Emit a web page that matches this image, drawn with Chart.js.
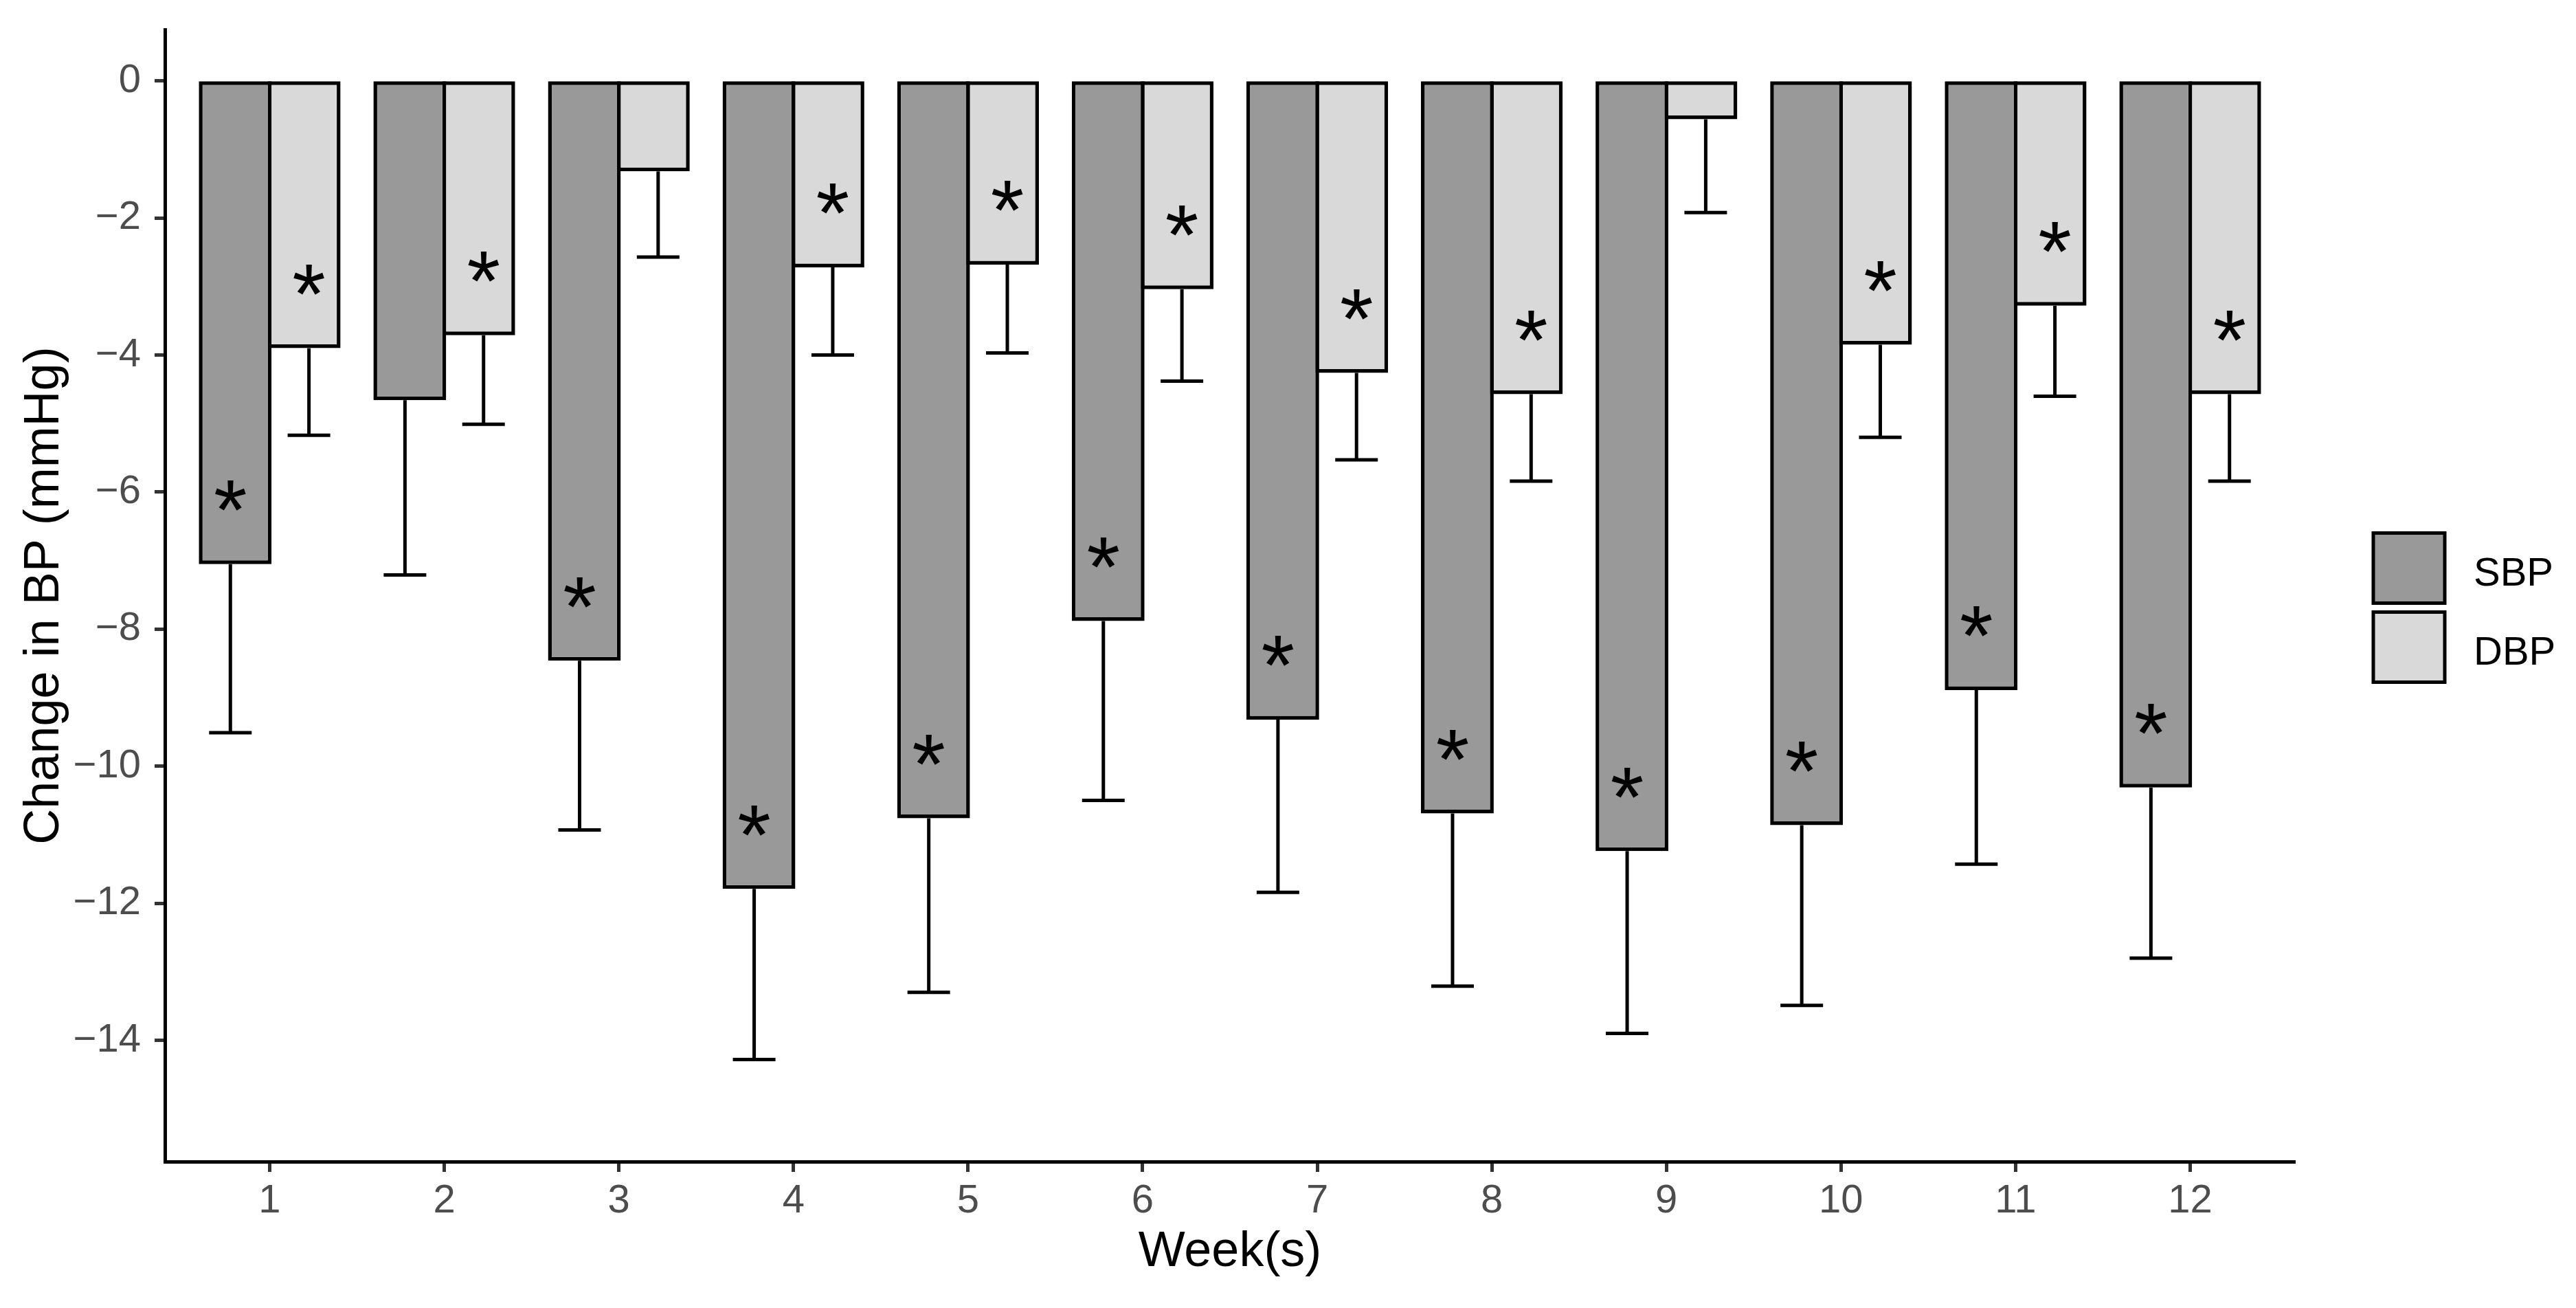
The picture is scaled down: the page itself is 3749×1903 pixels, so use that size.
<!DOCTYPE html>
<html>
<head>
<meta charset="utf-8">
<script src="https://cdn.jsdelivr.net/npm/chart.js@4/dist/chart.umd.min.js"></script>
<style>
html,body{margin:0;padding:0;background:#fff;}
#wrap{width:3749px;height:1903px;}
</style>
</head>
<body>
<div id="wrap"><canvas id="c" width="3749" height="1903"></canvas></div>
<script>
// ---- data ----
const weeks = [1, 2, 3, 4, 5, 6, 7, 8, 9, 10, 11, 12];
const weekLabels = ['1', '2', '3', '4', '5', '6', '7', '8', '9', '10', '11', '12'];
const seriesNames = ['SBP', 'DBP'];
const sbpMean = [-7.05, -4.66, -8.46, -11.79, -10.76, -7.88, -9.32, -10.69, -11.24, -10.86, -8.89, -10.31];
const sbpErr  = [2.46, 2.55, 2.47, 2.49, 2.54, 2.62, 2.52, 2.52, 2.66, 2.63, 2.54, 2.49];
const dbpMean = [-3.90, -3.71, -1.32, -2.72, -2.68, -3.04, -4.26, -4.57, -0.56, -3.85, -3.28, -4.57];
const dbpErr  = [1.27, 1.30, 1.25, 1.28, 1.29, 1.34, 1.27, 1.27, 1.36, 1.35, 1.32, 1.27];
const sbpSig  = [true, false, true, true, true, true, true, true, true, true, true, true];
const dbpSig  = [true, true, false, true, true, true, true, true, false, true, true, true];
const yTickValues = [0, -2, -4, -6, -8, -10, -12, -14];

// ---- styles ----
const FONT = '"Liberation Sans", Arial, Helvetica, sans-serif';
const seriesColors = ['#999999', '#D9D9D9'];
const DODGE = 0.225;      // error bar / star dodge offset (x units)
const CAP_HALF = 0.122;   // error bar cap half width (x units)
const STAR_OFFSET = 1.0;  // star placed above bar end (y units)

const errorPlugin = {
  id: 'errorStars',
  afterDatasetsDraw(chart) {
    const ctx = chart.ctx;
    const xs = chart.scales.x, ys = chart.scales.y;
    const groups = [
      {mean: sbpMean, err: sbpErr, sig: sbpSig, off: -DODGE},
      {mean: dbpMean, err: dbpErr, sig: dbpSig, off: DODGE}
    ];
    ctx.save();
    ctx.strokeStyle = '#000';
    ctx.lineWidth = 5;
    ctx.lineCap = 'butt';
    groups.forEach(g => {
      weeks.forEach((w, i) => {
        const cx = xs.getPixelForValue(w + g.off);
        const y0 = ys.getPixelForValue(g.mean[i]);
        const y1 = ys.getPixelForValue(g.mean[i] - g.err[i]);
        ctx.beginPath();
        ctx.moveTo(cx, y0);
        ctx.lineTo(cx, y1);
        ctx.stroke();
        const xl = xs.getPixelForValue(w + g.off - CAP_HALF);
        const xr = xs.getPixelForValue(w + g.off + CAP_HALF);
        ctx.beginPath();
        ctx.moveTo(xl, y1);
        ctx.lineTo(xr, y1);
        ctx.stroke();
      });
    });
    ctx.fillStyle = '#000';
    ctx.font = '125px ' + FONT;
    ctx.textAlign = 'center';
    ctx.textBaseline = 'alphabetic';
    const m = ctx.measureText('*');
    const mid = (m.actualBoundingBoxAscent - m.actualBoundingBoxDescent) / 2;
    groups.forEach(g => {
      weeks.forEach((w, i) => {
        if (!g.sig[i]) return;
        const cx = xs.getPixelForValue(w + g.off);
        const cy = ys.getPixelForValue(g.mean[i] + STAR_OFFSET);
        ctx.fillText('*', cx, cy + mid);
      });
    });
    ctx.restore();
  }
};

const legendPlugin = {
  id: 'customLegend',
  afterDraw(chart) {
    const ctx = chart.ctx;
    const ca = chart.chartArea;
    const kx = ca.right + 114, kw = 104, kh = 102;
    const keyTops = [775.5, 890.5];
    ctx.save();
    seriesNames.forEach((name, i) => {
      ctx.fillStyle = seriesColors[i];
      ctx.fillRect(kx, keyTops[i], kw, kh);
      ctx.strokeStyle = '#000';
      ctx.lineWidth = 5;
      ctx.strokeRect(kx, keyTops[i], kw, kh);
      ctx.fillStyle = '#000';
      ctx.font = '58px ' + FONT;
      ctx.textAlign = 'left';
      ctx.textBaseline = 'alphabetic';
      ctx.fillText(name, kx + kw + 42, keyTops[i] + kh / 2 + 25);
    });
    ctx.restore();
  }
};

const tickFont = {family: FONT, size: 58};
const titleFont = {family: FONT, size: 72};

new Chart(document.getElementById('c'), {
  type: 'bar',
  data: {
    datasets: [
      {
        label: seriesNames[0],
        data: weeks.map((w, i) => ({x: w, y: sbpMean[i]})),
        backgroundColor: seriesColors[0],
        borderColor: '#000',
        borderWidth: 5.5,
        borderSkipped: false
      },
      {
        label: seriesNames[1],
        data: weeks.map((w, i) => ({x: w, y: dbpMean[i]})),
        backgroundColor: seriesColors[1],
        borderColor: '#000',
        borderWidth: 5.5,
        borderSkipped: false
      }
    ]
  },
  options: {
    responsive: false,
    animation: false,
    devicePixelRatio: 1,
    categoryPercentage: 0.79,
    barPercentage: 1.055,
    layout: {padding: {top: 43, right: 409, left: 0, bottom: 0}},
    plugins: {
      legend: {display: false},
      tooltip: {enabled: false}
    },
    scales: {
      x: {
        type: 'linear',
        min: 0.4,
        max: 12.6,
        offset: false,
        afterBuildTicks: s => { s.ticks = weeks.map(v => ({value: v})); },
        afterFit: s => { s.height = 213; s.paddingLeft = 0; s.paddingRight = 0; },
        ticks: {
          callback: (v, i) => weekLabels[i],
          font: tickFont,
          color: '#4D4D4D',
          padding: 8,
          autoSkip: false,
          maxRotation: 0
        },
        grid: {offset: false, drawOnChartArea: false, drawTicks: true, tickLength: 15, tickWidth: 5, tickColor: '#333333'},
        border: {display: true, color: '#000', width: 5},
        title: {display: true, text: 'Week(s)', font: titleFont, color: '#000', padding: {top: 0, bottom: 38}}
      },
      y: {
        min: -15.77,
        max: 0.75,
        afterBuildTicks: s => { s.ticks = yTickValues.map(v => ({value: v})); },
        afterFit: s => { s.width = 240; s.paddingTop = 0; s.paddingBottom = 0; },
        ticks: {
          callback: v => (v < 0 ? '\u2212' + Math.abs(v) : String(v)),
          font: tickFont,
          color: '#4D4D4D',
          padding: 20
        },
        grid: {drawOnChartArea: false, drawTicks: true, tickLength: 15, tickWidth: 5, tickColor: '#333333'},
        border: {display: true, color: '#000', width: 5},
        title: {display: true, text: 'Change in BP (mmHg)', font: titleFont, color: '#000', padding: {top: 22, bottom: 0}}
      }
    }
  },
  plugins: [errorPlugin, legendPlugin]
});
</script>
</body>
</html>
